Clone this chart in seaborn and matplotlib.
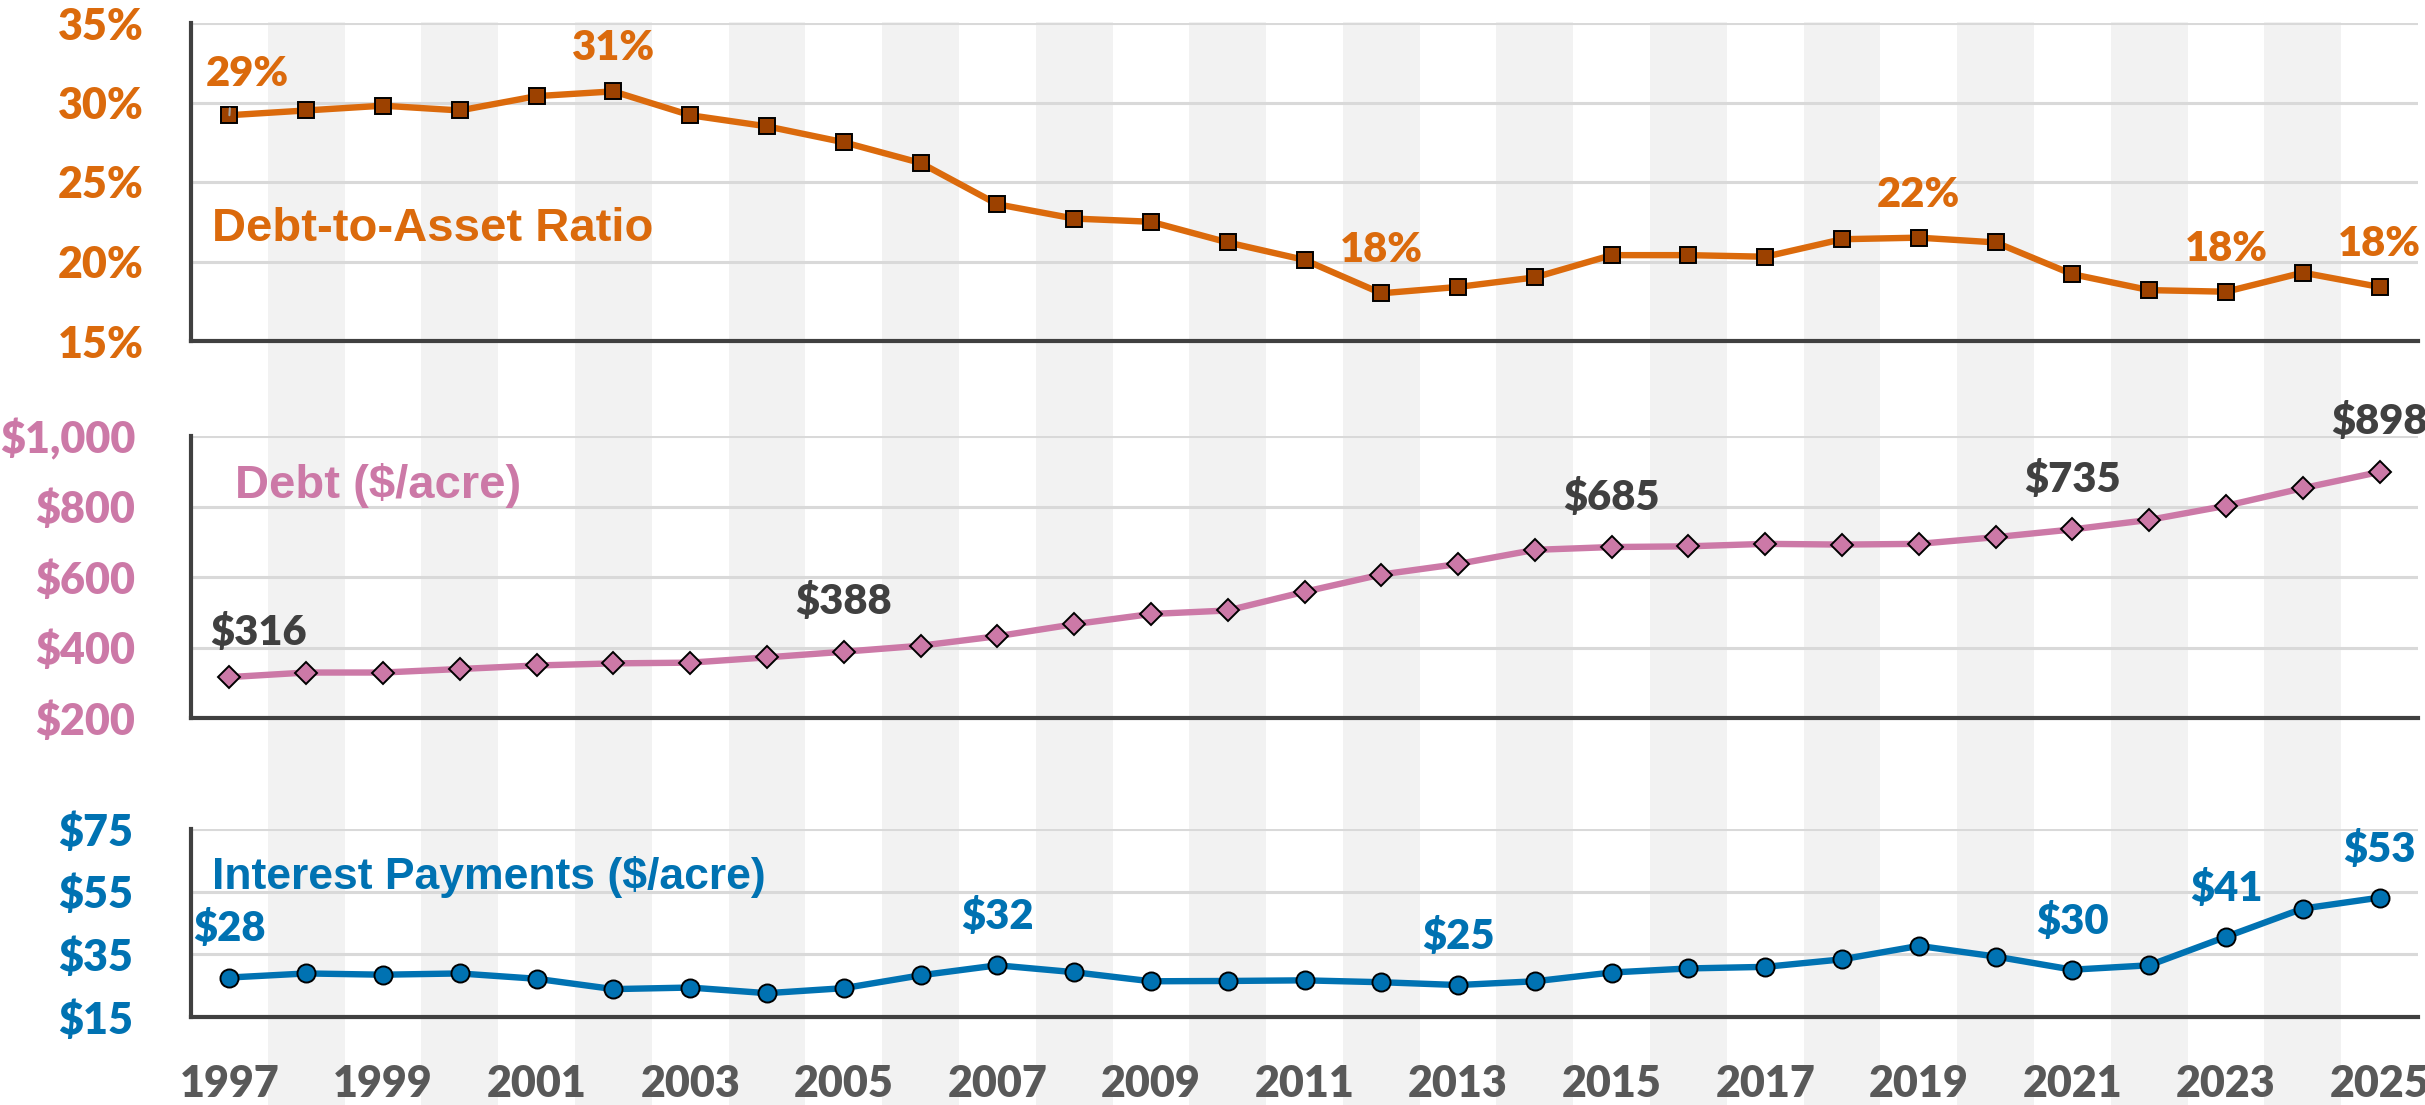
import matplotlib
matplotlib.use('Agg')
import matplotlib.pyplot as plt
import seaborn as sns
import numpy as np

# data
years = list(range(1997, 2026))
debt_to_asset = [29.2, 29.5, 29.8, 29.5, 30.4, 30.7, 29.2, 28.5, 27.5, 26.2,
                 23.6, 22.7, 22.5, 21.2, 20.1, 18.0, 18.4, 19.0, 20.4, 20.4,
                 20.3, 21.4, 21.5, 21.2, 19.2, 18.2, 18.1, 19.3, 18.4]
debt_per_acre = [316, 329, 329, 339, 349, 355, 357, 372, 388, 405,
                 432, 466, 495, 505, 558, 607, 637, 677, 685, 687,
                 694, 692, 694, 713, 735, 762, 802, 852, 898]
interest_per_acre = [27.6, 28.9, 28.5, 28.9, 27.2, 23.9, 24.4, 22.6, 24.2, 28.3,
                     31.5, 29.3, 26.4, 26.5, 26.7, 26.1, 25.2, 26.4, 29.2, 30.5,
                     31.0, 33.4, 37.7, 34.3, 30.1, 31.5, 40.6, 49.6, 53.1]

ratio_labels = {1997: '29%', 2002: '31%', 2012: '18%', 2019: '22%', 2023: '18%', 2025: '18%'}
debt_labels = {1997: '$316', 2005: '$388', 2015: '$685', 2021: '$735', 2025: '$898'}
interest_labels = {1997: '$28', 2007: '$32', 2013: '$25', 2021: '$30', 2023: '$41', 2025: '$53'}

ratio_ticks = [15, 20, 25, 30, 35]
debt_ticks = [200, 400, 600, 800, 1000]
interest_ticks = [15, 35, 55, 75]

ORANGE = '#DB6A0C'
ORANGE_MK = '#9C4100'
PINK = '#CC79A7'
BLUE = '#0072B2'
DARK = '#404040'
YEARCOL = '#595959'

sns.set_style('white')
plt.rcParams['font.family'] = ['Lato', 'DejaVu Sans']
plt.rcParams['font.weight'] = 'heavy'

W, H = 2425, 1105
fig = plt.figure(figsize=(W / 100, H / 100), dpi=100)

left, width = 191 / W, 2227 / W
bg = fig.add_axes([left, 0, width, 1 - 22 / H])
ax1 = fig.add_axes([left, 1 - 341 / H, width, 318 / H], facecolor='none')
ax2 = fig.add_axes([left, 1 - 718 / H, width, 282 / H], facecolor='none')
ax3 = fig.add_axes([left, 1 - 1017 / H, width, 188 / H], facecolor='none')

idx = np.arange(len(years))

# alternating year bands
bg.set_xlim(-0.5, len(years) - 0.5)
bg.set_ylim(0, 1)
for i in idx[1::2]:
    bg.axvspan(i - 0.5, i + 0.5, color='#F2F2F2', lw=0)
bg.axis('off')

panels = [
    (ax1, debt_to_asset, ratio_ticks, ORANGE, 's', ORANGE_MK, 12, ratio_labels, ORANGE,
     lambda v: f'{v}%', 'Debt-to-Asset Ratio', (0.0094, 0.352), 34, 31, 24),
    (ax2, debt_per_acre, debt_ticks, PINK, 'D', PINK, 11.5, debt_labels, DARK,
     lambda v: f'${v:,}', 'Debt ($/acre)', (0.0198, 0.823), 34, 36, 30),
    (ax3, interest_per_acre, interest_ticks, BLUE, 'o', BLUE, 13, interest_labels, BLUE,
     lambda v: f'${v}', 'Interest Payments ($/acre)', (0.0094, 0.745), 32, 35, 32),
]

label_shift = {(0, 1997): (13, 30), (1, 1997): (21, 32)}

for p, (ax, vals, yt, col, mk, mfc, ms, labels, lcol, fmt, title, tpos, tsize, dy, ypad) in enumerate(panels):
    ax.yaxis.grid(True, color='#D9D9D9', lw=2.2, zorder=0)
    ax.set_axisbelow(True)
    sns.lineplot(x=idx, y=vals, ax=ax, color=col, linewidth=4.6, marker=mk, markersize=ms,
                 markerfacecolor=mfc, markeredgecolor='black', markeredgewidth=1.4,
                 zorder=3)
    for ln in ax.get_lines():
        ln.set_linewidth(4.6)
    ax.set_xlim(-0.5, len(years) - 0.5)
    ax.set_ylim(yt[0], yt[-1])
    ax.set_yticks(yt)
    ax.set_yticklabels([fmt(v) for v in yt], color=col, fontsize=31, fontweight='heavy')
    ax.tick_params(axis='y', direction='out', length=10, width=2.2, color=DARK, pad=ypad)
    ax.set_xticks(idx[::2])
    ax.set_xticks(np.arange(-0.5, len(years), 1), minor=True)
    ax.tick_params(axis='x', which='major', length=0, pad=34)
    ax.tick_params(axis='x', which='minor', direction='inout', length=21, width=2.2, color=DARK)
    if ax is ax3:
        ax.set_xticklabels([str(y) for y in years[::2]], color=YEARCOL, fontsize=31,
                           fontweight='heavy')
    else:
        ax.set_xticklabels([])
    for s in ['top', 'right']:
        ax.spines[s].set_visible(False)
    for s in ['left', 'bottom']:
        ax.spines[s].set_color(DARK)
        ax.spines[s].set_linewidth(3)
    ax.set_xlabel('')
    ax.set_ylabel('')

    ax.text(tpos[0], tpos[1], title, transform=ax.transAxes, ha='left', va='center',
            fontsize=tsize, fontweight='bold', color=col, family='Liberation Sans')

    for yr, txt in labels.items():
        i = years.index(yr)
        off = label_shift.get((p, yr), (0, dy))
        kw = {}
        if (p, yr) == (0, 1997):
            kw['arrowprops'] = dict(arrowstyle='-', color='#A6A6A6', lw=1.5,
                                    shrinkA=9, shrinkB=0, relpos=(0.3, 0))
        ax.annotate(txt, (i, vals[i]), xytext=off, textcoords='offset points',
                    ha='center', va='center', fontsize=30, fontweight='heavy',
                    color=lcol, zorder=5, **kw)

fig.savefig('out.png', dpi=100)
